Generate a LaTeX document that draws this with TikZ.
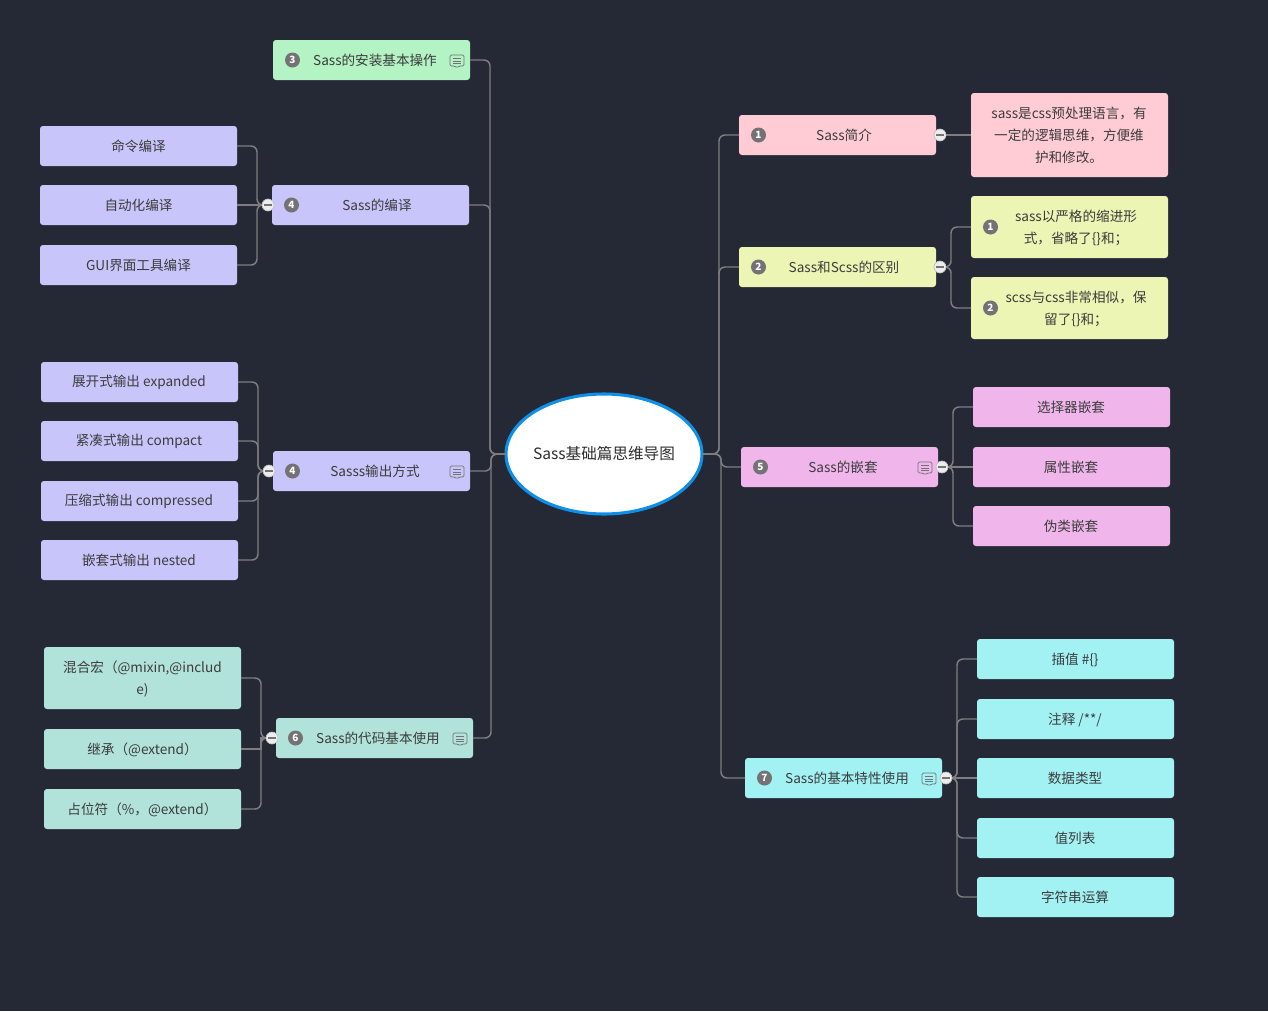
\documentclass[tikz,border=0pt]{standalone}
\usepackage{fontspec}
\usetikzlibrary{shapes.geometric}
\setmainfont{Noto Sans CJK SC}
\definecolor{bg}{HTML}{252936}
\definecolor{ink}{HTML}{3C3C3C}
\definecolor{conn}{HTML}{7F7D80}
\definecolor{badgec}{HTML}{747274}
\definecolor{cGreen}{HTML}{B3F3C4}
\definecolor{cLav}{HTML}{C8C5FA}
\definecolor{cPink}{HTML}{FFCCD5}
\definecolor{cYel}{HTML}{ECF5B4}
\definecolor{cMag}{HTML}{F0B6EC}
\definecolor{cCyan}{HTML}{A2F1F3}
\definecolor{cTeal}{HTML}{B2E3DA}
\definecolor{cBlue}{HTML}{0E8FE8}
\tikzset{
  x=0.75pt,y=-0.75pt,
  boxn/.style={rectangle,rounded corners=2.2pt,minimum width=147.75pt,inner sep=0pt,outer sep=0pt},
  lab/.style={inner sep=0pt,yshift=-0.4pt,text=ink,align=center,font=\fontsize{10.2}{16.5}\selectfont},
  badge/.style={circle,fill=badgec,minimum size=11.25pt,inner sep=0pt,text=white,font=\fontsize{7.5}{8}\selectfont\bfseries},
  link/.style={draw=conn,line width=1.1pt,rounded corners=4.5pt},
  clps/.style={circle,fill=white!93!black,draw=white!75!black,line width=0.5pt,minimum size=9pt,inner sep=0pt,
    path picture={\fill[badgec] ([xshift=-2.8pt,yshift=-0.6pt]path picture bounding box.center) rectangle ([xshift=2.8pt,yshift=0.6pt]path picture bounding box.center);}},
  icon/.style={draw=badgec,line width=0.6pt,fill=none},
}
% name, colour, box centre x, centre y, height, text centre x, text
\newcommand{\bx}[7]{\node[boxn,fill=#2,minimum height=#5*0.75pt] (#1) at (#3,#4) {};
  \node[lab] (#1-text) at (#6,#4) {#7};}
\newcommand{\cmt}[2]{\begin{scope}[shift={(#1,#2)}]
  \draw[icon,rounded corners=1pt] (-7,-6) -- (7,-6) -- (7,5) -- (2,5) -- (0,7) -- (-2,5) -- (-7,5) -- cycle;
  \draw[icon] (-4,-2.5) -- (4,-2.5) (-4,0) -- (4,0) (-4,2.5) -- (4,2.5);
\end{scope}}
\begin{document}
\begin{tikzpicture}
\useasboundingbox (0,0) rectangle (1268,1011);
\fill[bg] (0,0) rectangle (1268,1011);
% root
\node[ellipse,draw=cBlue,fill=white,line width=2.3pt,minimum width=147pt,minimum height=90pt,inner sep=-6pt,outer sep=0pt,text=black!82,font=\fontsize{11.7}{14}\selectfont] (root) at (604,454) {\raisebox{-0.6pt}{Sass基础篇思维导图}};
% left main
\bx{n3}{cGreen}{371.5}{60}{40}{375}{Sass的安装基本操作}
\bx{n4a}{cLav}{370.5}{205}{40}{377}{Sass的编译}
\bx{n4b}{cLav}{371.5}{471}{40}{375}{Sasss输出方式}
\bx{n6}{cTeal}{374.5}{738}{40}{378}{Sass的代码基本使用}
% left leaves
\bx{c1}{cLav}{138.5}{146}{40}{138.5}{命令编译}
\bx{c2}{cLav}{138.5}{205}{40}{138.5}{自动化编译}
\bx{c3}{cLav}{138.5}{265}{40}{138.5}{GUI界面工具编译}
\bx{o1}{cLav}{139.5}{382}{40}{139}{展开式输出 expanded}
\bx{o2}{cLav}{139.5}{441}{40}{139}{紧凑式输出 compact}
\bx{o3}{cLav}{139.5}{501}{40}{139}{压缩式输出 compressed}
\bx{o4}{cLav}{139.5}{560}{40}{139}{嵌套式输出 nested}
\bx{u1}{cTeal}{142.5}{678}{62}{142.5}{混合宏（@mixin,@includ\\e)}
\bx{u2}{cTeal}{142.5}{749}{40}{142.5}{继承（@extend）}
\bx{u3}{cTeal}{142.5}{809}{40}{142.5}{占位符（\%，@extend）}
% right main
\bx{s1}{cPink}{837.5}{135}{40}{844}{Sass简介}
\bx{s2}{cYel}{837.5}{267}{40}{844}{Sass和Scss的区别}
\bx{s5}{cMag}{839.5}{467}{40}{843}{Sass的嵌套}
\bx{s7}{cCyan}{843.5}{778}{40}{847}{Sass的基本特性使用}
% right leaves
\bx{d1}{cPink}{1069.5}{135}{84}{1069}{sass是css预处理语言，有\\一定的逻辑思维，方便维\\护和修改。}
\bx{e1}{cYel}{1069.5}{227}{62}{1076}{sass以严格的缩进形\\式，省略了\{\}和；}
\bx{e2}{cYel}{1069.5}{308}{62}{1076}{scss与css非常相似，保\\留了\{\}和；}
\bx{f1}{cMag}{1071.5}{407}{40}{1071}{选择器嵌套}
\bx{f2}{cMag}{1071.5}{467}{40}{1071}{属性嵌套}
\bx{f3}{cMag}{1071.5}{526}{40}{1071}{伪类嵌套}
\bx{g1}{cCyan}{1075.5}{659}{40}{1075}{插值 \#\{\}}
\bx{g2}{cCyan}{1075.5}{719}{40}{1075}{注释 /**/}
\bx{g3}{cCyan}{1075.5}{778}{40}{1075}{数据类型}
\bx{g4}{cCyan}{1075.5}{838}{40}{1075}{值列表}
\bx{g5}{cCyan}{1075.5}{897}{40}{1075}{字符串运算}
% connectors from the root
\draw[link] (root.west) -- ++(-16,0) |- (n3.east);
\draw[link] (root.west) -- ++(-16,0) |- (n4a.east);
\draw[link] (root.west) -- ++(-15,0) |- (n4b.east);
\draw[link] (root.west) -- ++(-15,0) |- (n6.east);
\draw[link] (root.east) -- ++(17,0) |- (s1.west);
\draw[link] (root.east) -- ++(17,0) |- (s2.west);
\draw[link] (root.east) -- ++(19,0) |- (s5.west);
\draw[link] (root.east) -- ++(19,0) |- (s7.west);
% connectors to the leaves
\foreach \t in {c1,c3} \draw[link] (n4a.west) -- ++(-15,0) |- (\t.east);
\draw[link] (n4a.west) -- (c2.east);
\foreach \t in {o1,o2,o3,o4} \draw[link] (n4b.west) -- ++(-15,0) |- (\t.east);
\foreach \t in {u1,u3} \draw[link] (n6.west) -- ++(-15,0) |- (\t.east);
\draw[link,sharp corners] (n6.west) -- ++(-15,0) |- (u2.east);
\draw[link] (s1.east) -- (d1.west);
\foreach \t in {e1,e2} \draw[link] (s2.east) -- ++(15,0) |- (\t.west);
\foreach \t in {f1,f3} \draw[link] (s5.east) -- ++(15,0) |- (\t.west);
\draw[link] (s5.east) -- (f2.west);
\foreach \t in {g1,g2,g4,g5} \draw[link] (s7.east) -- ++(15,0) |- (\t.west);
\draw[link] (s7.east) -- (g3.west);
% collapse markers
\node[clps] (k1) at (268,205) {};
\node[clps] (k2) at (269,471) {};
\node[clps] (k3) at (272,738) {};
\node[clps] (k4) at (940,135) {};
\node[clps] (k5) at (940,267) {};
\node[clps] (k6) at (942,467) {};
\node[clps] (k7) at (946,778) {};
% badges
\node[badge] (b1) at (292.5,60) {3};
\node[badge] (b2) at (291.5,205) {4};
\node[badge] (b3) at (292.5,471) {4};
\node[badge] (b4) at (295.5,738) {6};
\node[badge] (b5) at (758.5,135) {1};
\node[badge] (b6) at (758.5,267) {2};
\node[badge] (b7) at (760.5,467) {5};
\node[badge] (b8) at (764.5,778) {7};
\node[badge] (b9) at (990.5,227) {1};
\node[badge] (b10) at (990.5,308) {2};
% note icons
\cmt{457}{61}
\cmt{457}{472}
\cmt{460}{739}
\cmt{925}{468}
\cmt{929}{779}
\end{tikzpicture}
\end{document}
